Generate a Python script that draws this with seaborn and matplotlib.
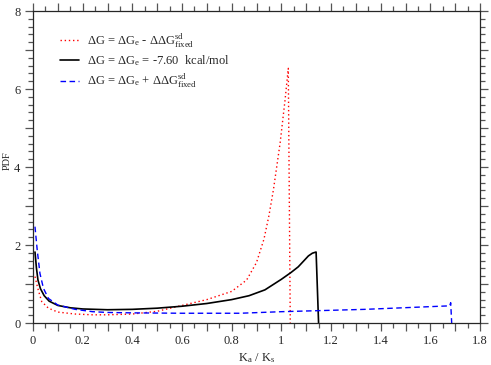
import matplotlib
matplotlib.use("Agg")
import matplotlib.pyplot as plt
from matplotlib.ticker import MultipleLocator, FuncFormatter
import seaborn as sns
import pandas as pd

# K_a / K_s ratio and PDF, one pair of arrays per curve
ratio_minus = [0.008, 0.015, 0.021, 0.035, 0.062, 0.10, 0.17, 0.24, 0.30, 0.40, 0.50,
               0.60, 0.70, 0.80, 0.86, 0.90, 0.93, 0.95, 0.968, 0.995, 1.015, 1.028, 1.036]
pdf_minus = [1.19, 1.00, 0.85, 0.55, 0.38, 0.28, 0.23, 0.21, 0.21, 0.23, 0.30,
             0.45, 0.60, 0.81, 1.10, 1.55, 2.15, 2.75, 3.41, 4.61, 5.72, 6.53, 0.0]

ratio_mid = [0.008, 0.014, 0.020, 0.030, 0.045, 0.065, 0.10, 0.15, 0.20, 0.30, 0.40,
             0.50, 0.60, 0.70, 0.80, 0.87, 0.934, 1.00, 1.04, 1.068, 1.09, 1.109,
             1.125, 1.14, 1.15]
pdf_mid = [1.82, 1.40, 1.10, 0.88, 0.70, 0.56, 0.45, 0.39, 0.36, 0.34, 0.35,
           0.38, 0.43, 0.50, 0.60, 0.70, 0.85, 1.12, 1.30, 1.44, 1.59, 1.72,
           1.79, 1.82, 0.0]

ratio_plus = [0.008, 0.017, 0.028, 0.042, 0.062, 0.10, 0.17, 0.24, 0.30, 0.40, 0.60,
              0.834, 1.00, 1.337, 1.678, 1.682, 1.686]
pdf_plus = [2.47, 1.87, 1.27, 0.89, 0.63, 0.46, 0.35, 0.29, 0.27, 0.26, 0.25,
            0.25, 0.29, 0.35, 0.44, 0.52, 0.0]

labels = [
    r"$\Delta$G = $\Delta$G$_{\mathrm{e}}$ - $\Delta\Delta$G$^{\mathrm{sd}}_{\mathrm{fixed}}$",
    r"$\Delta$G = $\Delta$G$_{\mathrm{e}}$ = -7.60  kcal/mol",
    r"$\Delta$G = $\Delta$G$_{\mathrm{e}}$ + $\Delta\Delta$G$^{\mathrm{sd}}_{\mathrm{fixed}}$",
]

FONTSIZE = 9
sns.set_style("ticks")
plt.rcParams["font.family"] = ["Liberation Serif", "DejaVu Serif"]
plt.rcParams["mathtext.fontset"] = "custom"
plt.rcParams["mathtext.rm"] = "Liberation Serif"
plt.rcParams["mathtext.it"] = "Liberation Serif"
plt.rcParams["mathtext.bf"] = "Liberation Serif:bold"

fig = plt.figure(figsize=(4.91, 3.65), dpi=100)
ax = fig.add_axes([33 / 491, 42 / 365, 447 / 491, 312 / 365])

curves = [
    (ratio_minus, pdf_minus, "red", (0, (1, 2))),
    (ratio_mid, pdf_mid, "black", "-"),
    (ratio_plus, pdf_plus, "blue", (0, (4, 2.5))),
]
for (xs, ys, color, ls), label in zip(curves, labels):
    df = pd.DataFrame({"ratio": xs, "pdf": ys})
    sns.lineplot(data=df, x="ratio", y="pdf", ax=ax, color=color, linestyle=ls,
                 linewidth=1.2 if color == "black" else 1.0, label=label,
                 estimator=None, sort=False)

ax.set_xlim(0, 1.8)
ax.set_ylim(0, 8)
ax.xaxis.set_major_locator(MultipleLocator(0.1))
ax.xaxis.set_minor_locator(MultipleLocator(0.05))
ax.yaxis.set_major_locator(MultipleLocator(1))
ax.yaxis.set_minor_locator(MultipleLocator(0.2))


def xfmt(v, pos):
    k = int(round(v * 10))
    if k % 2:
        return ""
    return "%g" % (k / 10)


def yfmt(v, pos):
    k = int(round(v))
    return "%d" % k if k % 2 == 0 else ""


ax.xaxis.set_major_formatter(FuncFormatter(xfmt))
ax.yaxis.set_major_formatter(FuncFormatter(yfmt))
ax.tick_params(which="both", direction="out", top=True, right=True,
               labelsize=FONTSIZE, color="#555555", width=0.9)
ax.tick_params(which="major", length=6, pad=3)
ax.tick_params(which="minor", length=3.5)
for s in ax.spines.values():
    s.set_linewidth(0.9)

ax.set_xlabel(r"K$_{\mathrm{a}}$ / K$_{\mathrm{s}}$", fontsize=FONTSIZE, labelpad=3)
ax.set_ylabel("PDF", fontsize=7.5, va="center")
ax.yaxis.set_label_coords(-0.058, 0.52)

ax.legend(loc="upper left", bbox_to_anchor=(0.035, 0.97), frameon=False,
          fontsize=FONTSIZE, handlelength=1.5, handletextpad=0.7, labelspacing=0.3)

fig.savefig("out.png", dpi=100)
